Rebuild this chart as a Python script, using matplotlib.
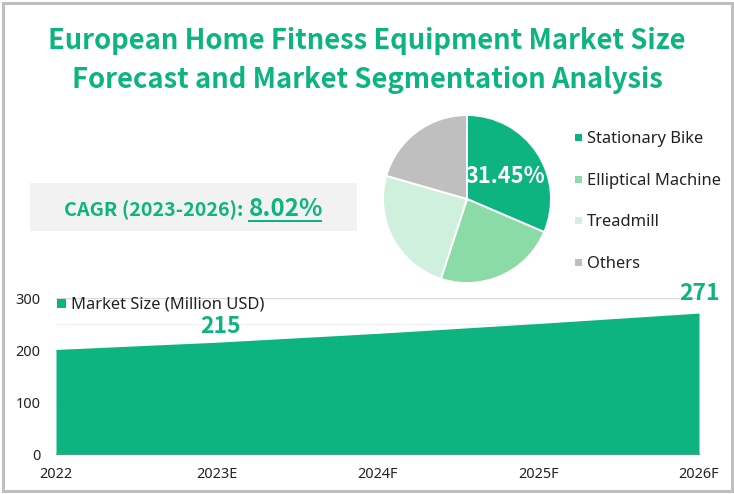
import matplotlib
matplotlib.use("Agg")
import matplotlib.pyplot as plt
from matplotlib.patches import Rectangle

years = ["2022", "2023E", "2024F", "2025F", "2026F"]
market_size = [201, 215, 232, 251, 271]
shown_labels = {1: "215", 4: "271"}
segments = ["Stationary Bike", "Elliptical Machine", "Treadmill", "Others"]
shares = [31.45, 23.6, 24.4, 20.55]
seg_colors = ["#0DB47F", "#8ADBA5", "#CFF0DD", "#BFBFBF"]
GREEN = "#0DB47F"
BOLD = ["Noto Sans CJK SC", "DejaVu Sans"]
W, H = 734, 494

plt.rcParams["font.family"] = ["Noto Sans", "DejaVu Sans"]
fig = plt.figure(figsize=(W / 100, H / 100), dpi=100, facecolor="white")


def fx(x):
    return x / W


def fy(y):
    return 1 - y / H


def box(l, t, r, b):
    return [fx(l), fy(b), (r - l) / W, (b - t) / H]


fig.add_artist(Rectangle((fx(2.5), fy(490.5)), 729 / W, 487 / H, transform=fig.transFigure,
                         fill=False, ec="#BFBFBF", lw=2.2))

fig.text(fx(367), fy(41), "European Home Fitness Equipment Market Size", color=GREEN, family=BOLD,
         fontsize=19.7, fontweight="bold", ha="center", va="center")
fig.text(fx(367), fy(80), "Forecast and Market Segmentation Analysis", color=GREEN, family=BOLD,
         fontsize=19.7, fontweight="bold", ha="center", va="center")

fig.add_artist(Rectangle((fx(30), fy(231)), 327 / W, 48 / H, transform=fig.transFigure,
                         fc="#F2F2F2", ec="none"))
fig.text(fx(64), fy(210), "CAGR (2023-2026):", color=GREEN, fontsize=14.2, fontweight="bold", family=BOLD,
         ha="left", va="center")
fig.text(fx(249), fy(209), "8.02%", color=GREEN, fontsize=17.5, fontweight="bold", family=BOLD,
         ha="left", va="center")
fig.add_artist(Rectangle((fx(248), fy(222)), 74 / W, 1.6 / H, transform=fig.transFigure,
                         fc=GREEN, ec="none"))

# area chart
ax = fig.add_axes(box(56, 298, 699, 454))
ax.set_facecolor("none")
xs = list(range(len(years)))
ax.fill_between(xs, market_size, 0, color=GREEN, lw=0, zorder=3, label="Market Size (Million USD)")
ax.set_xlim(0, 4)
ax.set_ylim(0, 300)
ax.set_yticks([0, 100, 200, 300])
ax.set_yticks([250], minor=True)
ax.set_xticks(xs, years)
ax.grid(axis="y", which="major", color="#D9D9D9", lw=1, zorder=0)
ax.grid(axis="y", which="minor", color="#F0F0F0", lw=1, zorder=0)
ax.set_axisbelow(True)
ax.tick_params(which="both", length=0, labelsize=10.4, colors="#222222")
ax.tick_params(axis="y", pad=11)
ax.tick_params(axis="x", pad=9)
for s in ["top", "right", "left"]:
    ax.spines[s].set_visible(False)
ax.spines["bottom"].set_color("#8C8C8C")
for i, txt in shown_labels.items():
    ax.annotate(txt, (xs[i], market_size[i]), xytext=(2.5 if i == 1 else 0, 3 if i == 1 else 6),
                textcoords="offset points", ha="center", va="bottom", color=GREEN, fontsize=16.5, family=BOLD,
                fontweight="bold", clip_on=False, zorder=5)
fig.add_artist(Rectangle((fx(57), fy(308)), 9 / W, 9 / H, transform=fig.transFigure, fc=GREEN, ec="none"))
fig.text(fx(71), fy(304), "Market Size (Million USD)", color="#222222", fontsize=11.9, ha="left", va="center")

# pie
pax = fig.add_axes(box(383, 115, 551, 283))
pax.pie(shares, colors=seg_colors, startangle=90, counterclock=False, radius=1.0,
        wedgeprops=dict(ec="white", lw=1.4))
pax.set_xlim(-1, 1)
pax.set_ylim(-1, 1)
fig.text(fx(505), fy(176), "31.45%", color="white", fontsize=15.7, fontweight="bold", family=BOLD,
         ha="center", va="center")

legend_y = [137, 179, 220, 262]
for name, c, y in zip(segments, seg_colors, legend_y):
    fig.add_artist(Rectangle((fx(575), fy(y + 4)), 7 / W, 7 / H, transform=fig.transFigure, fc=c, ec="none"))
    fig.text(fx(587), fy(y + 2), name, color="#222222", fontsize=11.9, ha="left", va="center")

fig.savefig("out.png", dpi=100, facecolor="white")
